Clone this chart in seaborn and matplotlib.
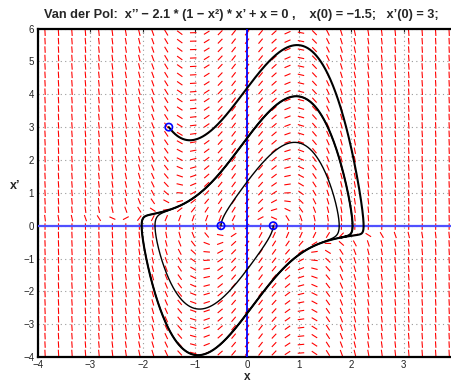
import numpy as np
import pandas as pd
import matplotlib
matplotlib.use("Agg")
import matplotlib.pyplot as plt
import seaborn as sns

# ---- data ----
mu = 2.1                      # coefficient in the title equation
start_x = [-1.5, -0.5, 0.5]   # initial positions (blue circles)
start_v = [3.0, 0.0, 0.0]     # initial velocities
run_time = [10.5, 8.5, 8.5]   # integration span of each trajectory
traj_width = [1.5, 1.0, 1.0]
x_ticks = [-4, -3, -2, -1, 0, 1, 2, 3]
y_ticks = [-4, -3, -2, -1, 0, 1, 2, 3, 4, 5, 6]
x_lim = (-4, 4)
y_lim = (-4, 6)
n_cols, n_rows = 31, 39       # direction-field grid

sns.set_style("white")
plt.rcParams['font.family'] = ['Liberation Sans', 'DejaVu Sans']

W, H = 451, 383
fig = plt.figure(figsize=(W / 100, H / 100), dpi=100)
ax_l, ax_r, ax_t, ax_b = 38.3, 455.9, 28.5, 357.2
ax = fig.add_axes([ax_l / W, 1 - ax_b / H, (ax_r - ax_l) / W, (ax_b - ax_t) / H])
ax.set_xlim(*x_lim)
ax.set_ylim(*y_lim)

sx = (ax_r - ax_l) / (x_lim[1] - x_lim[0])
sy = (ax_b - ax_t) / (y_lim[1] - y_lim[0])


def field(x, v):
    return v, mu * (1 - x ** 2) * v - x


# direction field
gx = x_lim[0] + (np.arange(n_cols) + 0.5) * (x_lim[1] - x_lim[0]) / n_cols
gy = y_lim[0] + (np.arange(n_rows) + 0.5) * (y_lim[1] - y_lim[0]) / n_rows
GX, GY = np.meshgrid(gx, gy)
DU, DV = field(GX, GY)
DU, DV = DU * sx, DV * sy
nrm = np.hypot(DU, DV)
nrm[nrm == 0] = 1
ax.quiver(GX, GY, DU / nrm, DV / nrm, angles='uv', scale_units='dots', scale=1 / 6.5,
          headwidth=0, headlength=0, headaxislength=0, pivot='middle',
          color='red', units='dots', width=1.1, zorder=2)

# grid lines
for t in x_ticks:
    ax.axvline(t, color='#999999', lw=0.8, ls=(0, (1, 3)), zorder=1)
for t in y_ticks:
    ax.axhline(t, color='#999999', lw=0.8, ls=(0, (1, 3)), zorder=1)

ax.axhline(0, color='#5050ff', lw=1.6, zorder=3)
ax.axvline(0, color='#0000ff', lw=1.3, zorder=3)


def rk4(x, v, T, dt=0.002):
    xs, vs = [x], [v]
    for _ in range(int(T / dt)):
        k1 = field(x, v)
        k2 = field(x + dt / 2 * k1[0], v + dt / 2 * k1[1])
        k3 = field(x + dt / 2 * k2[0], v + dt / 2 * k2[1])
        k4 = field(x + dt * k3[0], v + dt * k3[1])
        x = x + dt / 6 * (k1[0] + 2 * k2[0] + 2 * k3[0] + k4[0])
        v = v + dt / 6 * (k1[1] + 2 * k2[1] + 2 * k3[1] + k4[1])
        xs.append(x)
        vs.append(v)
    return np.array(xs), np.array(vs)


for x0, v0, T, lw in zip(start_x, start_v, run_time, traj_width):
    xs, vs = rk4(x0, v0, T)
    df = pd.DataFrame({'x': xs, 'v': vs})
    sns.lineplot(data=df, x='x', y='v', sort=False, estimator=None, color='black',
                 lw=lw, ax=ax, zorder=4)

pts = pd.DataFrame({'x': start_x, 'v': start_v})
sns.scatterplot(data=pts, x='x', y='v', ax=ax, s=28, facecolor='none',
                edgecolor='blue', linewidth=1.2, zorder=5)

ax.set_xticks(x_ticks)
ax.set_yticks(y_ticks)
ax.set_xticklabels([str(t).replace('-', '\u2212') for t in x_ticks])
ax.set_yticklabels([str(t).replace('-', '\u2212') for t in y_ticks])
ax.tick_params(direction='in', length=3, width=0.8, labelsize=7, colors='#222222',
               top=True, right=True, pad=3)
ax.tick_params(axis='x', pad=2)
for s in ax.spines.values():
    s.set_color('black')
    s.set_linewidth(1.6)

ax.set_xlabel('')
ax.set_ylabel('')
fig.text(247 / W, 1 - 382.5 / H, "x", fontsize=8.5, fontweight='bold', ha='center', va='bottom')
fig.text(15 / W, 1 - 186 / H, "x\u2019", fontsize=9, fontweight='bold', ha='center', va='center')
fig.text(44 / W, 1 - 18 / H,
         "Van der Pol:  x\u2019\u2019 \u2212 2.1 * (1 \u2212 x\u00b2) * x\u2019 + x = 0 ,    "
         "x(0) = \u22121.5;   x\u2019(0) = 3;", fontsize=9.2, fontweight='bold',
         ha='left', va='baseline')

fig.savefig('out.png', dpi=100)
